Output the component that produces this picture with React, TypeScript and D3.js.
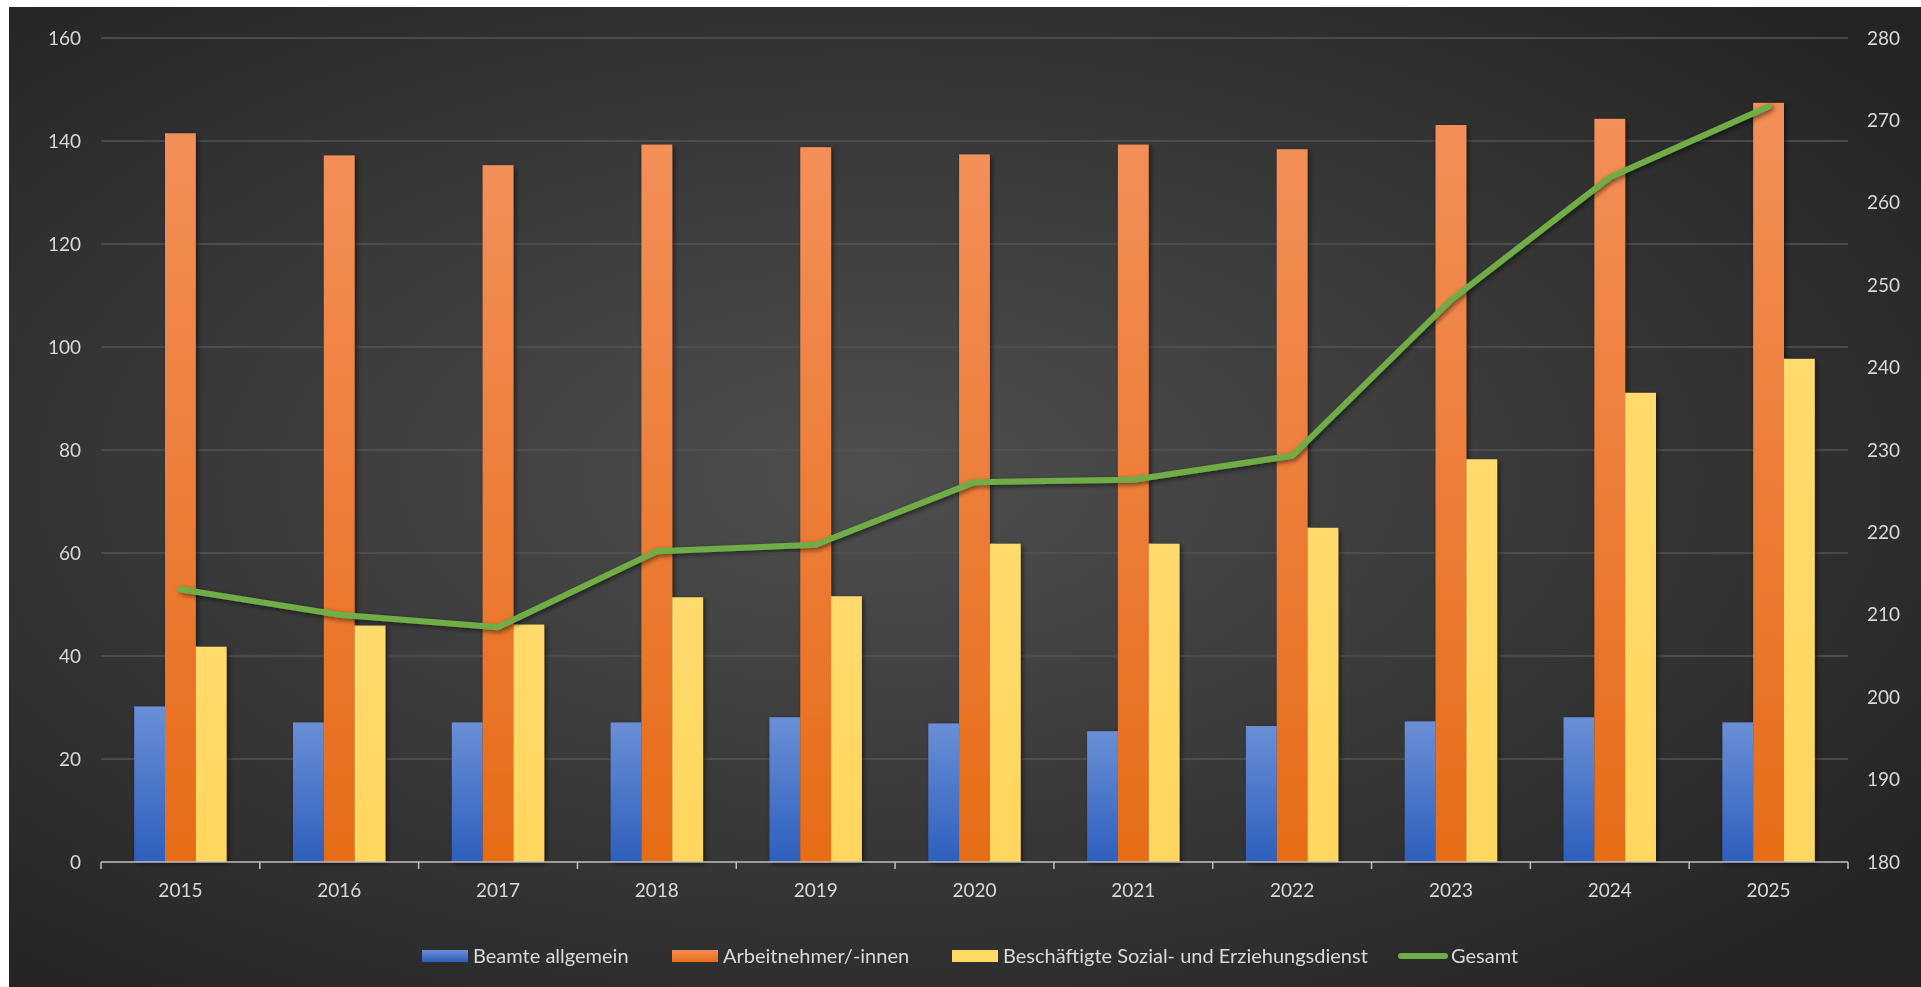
// Beschäftigte 2015-2025: grouped bars (left axis) + Gesamt line (right axis)
import * as d3 from "d3";
import { useEffect, useRef } from "react";

const years = ["2015", "2016", "2017", "2018", "2019", "2020", "2021", "2022", "2023", "2024", "2025"];
const beamte = [30.2, 27.1, 27.1, 27.1, 28.1, 26.9, 25.4, 26.4, 27.3, 28.1, 27.1];
const arbeitnehmer = [141.5, 137.2, 135.3, 139.3, 138.8, 137.4, 139.3, 138.4, 143.1, 144.3, 147.4];
const sozial = [41.8, 45.9, 46.1, 51.4, 51.6, 61.8, 61.8, 64.9, 78.2, 91.1, 97.7];
const gesamt = [213.1, 210.0, 208.5, 217.7, 218.5, 226.1, 226.4, 229.3, 248.2, 263.1, 271.7];

const leftTicks = [0, 20, 40, 60, 80, 100, 120, 140, 160];
const rightTicks = [180, 190, 200, 210, 220, 230, 240, 250, 260, 270, 280];

const seriesNames = ["Beamte allgemein", "Arbeitnehmer/-innen", "Beschäftigte Sozial- und Erziehungsdienst", "Gesamt"];

export default function App() {
  const svgRef = useRef<SVGSVGElement>(null);

  useEffect(() => {
    const W = 1912;
    const H = 980;
    const margin = { top: 31, right: W - 1839, bottom: H - 855, left: 92 };
    const width = W - margin.left - margin.right;
    const height = H - margin.top - margin.bottom;
    const font = "Lato, 'Open Sans', sans-serif";
    const textColor = "#D9D9D9";

    const root = d3.select(svgRef.current);
    root.selectAll("*").remove();

    const defs = root.append("defs");
    // background radial gradient
    const bg = defs.append("radialGradient").attr("id", "bg").attr("cx", "45%").attr("cy", "48%").attr("r", "68%");
    bg.append("stop").attr("offset", "0%").attr("stop-color", "#4f4f4f");
    bg.append("stop").attr("offset", "100%").attr("stop-color", "#242424");

    const grad = (id: string, top: string, bottom: string) => {
      const g = defs.append("linearGradient").attr("id", id).attr("x1", 0).attr("y1", 0).attr("x2", 0).attr("y2", 1);
      g.append("stop").attr("offset", "0%").attr("stop-color", top);
      g.append("stop").attr("offset", "100%").attr("stop-color", bottom);
    };
    grad("gBlue", "#6A8FD6", "#2D5FBD");
    grad("gOrange", "#F38F58", "#E66C17");
    grad("gYellow", "#FFDA6C", "#FFD65E");

    const shadow = defs.append("filter").attr("id", "shadow").attr("x", "-20%").attr("y", "-5%").attr("width", "150%").attr("height", "115%");
    shadow.append("feDropShadow").attr("dx", 2).attr("dy", 2).attr("stdDeviation", 2.5).attr("flood-color", "#000").attr("flood-opacity", 0.55);

    root.append("rect").attr("width", W).attr("height", H).attr("fill", "url(#bg)");

    const svg = root.append("g").attr("transform", `translate(${margin.left},${margin.top})`);

    const x = d3.scaleBand().domain(years).range([0, width]).padding(0);
    const yL = d3.scaleLinear().domain([0, 160]).range([height, 0]);
    const yR = d3.scaleLinear().domain([180, 280]).range([height, 0]);

    // gridlines
    svg
      .append("g")
      .selectAll("line")
      .data(leftTicks.filter((d) => d > 0))
      .enter()
      .append("line")
      .attr("x1", 0)
      .attr("x2", width)
      .attr("y1", (d) => yL(d))
      .attr("y2", (d) => yL(d))
      .attr("stroke", "#555555")
      .attr("stroke-width", 1.3);

    // left axis labels
    svg
      .append("g")
      .selectAll("text")
      .data(leftTicks)
      .enter()
      .append("text")
      .attr("x", -20)
      .attr("y", (d) => yL(d))
      .attr("dy", "0.35em")
      .attr("text-anchor", "end")
      .text((d) => d)
      .style("fill", textColor)
      .style("font-family", font)
      .style("font-size", "19px");

    // right axis labels
    svg
      .append("g")
      .selectAll("text")
      .data(rightTicks)
      .enter()
      .append("text")
      .attr("x", width + 19)
      .attr("y", (d) => yR(d))
      .attr("dy", "0.35em")
      .attr("text-anchor", "start")
      .text((d) => d)
      .style("fill", textColor)
      .style("font-family", font)
      .style("font-size", "19px");

    // bars
    const barW = 30.8;
    const series = [
      { values: beamte, fill: "url(#gBlue)" },
      { values: arbeitnehmer, fill: "url(#gOrange)" },
      { values: sozial, fill: "url(#gYellow)" },
    ];
    const bars = svg.append("g").attr("filter", "url(#shadow)");
    series.forEach((s, si) => {
      bars
        .append("g")
        .selectAll("rect")
        .data(s.values)
        .enter()
        .append("rect")
        .attr("x", (d, i) => (x(years[i]) as number) + x.bandwidth() / 2 + (si - 1.5) * barW)
        .attr("y", (d) => yL(d))
        .attr("width", barW)
        .attr("height", (d) => height - yL(d))
        .attr("fill", s.fill);
    });

    // x axis
    const ax = svg.append("g").attr("transform", `translate(0,${height})`);
    ax.append("line").attr("x1", 0).attr("x2", width).attr("stroke", "#BFBFBF").attr("stroke-width", 1.5);
    ax
      .selectAll("line.tick")
      .data(d3.range(years.length + 1))
      .enter()
      .append("line")
      .attr("class", "tick")
      .attr("x1", (i) => i * x.bandwidth())
      .attr("x2", (i) => i * x.bandwidth())
      .attr("y1", 0)
      .attr("y2", 7)
      .attr("stroke", "#BFBFBF")
      .attr("stroke-width", 1.5);
    ax
      .selectAll("text")
      .data(years)
      .enter()
      .append("text")
      .attr("x", (d) => (x(d) as number) + x.bandwidth() / 2)
      .attr("y", 28)
      .attr("dy", "0.35em")
      .attr("text-anchor", "middle")
      .text((d) => d)
      .style("fill", textColor)
      .style("font-family", font)
      .style("font-size", "19px");

    // Gesamt line
    const line = d3
      .line<number>()
      .x((d, i) => (x(years[i]) as number) + x.bandwidth() / 2)
      .y((d) => yR(d));
    svg
      .append("path")
      .datum(gesamt)
      .attr("d", line)
      .attr("fill", "none")
      .attr("stroke", "#70AD47")
      .attr("stroke-width", 6)
      .attr("stroke-linejoin", "round")
      .attr("stroke-linecap", "round")
      .attr("filter", "url(#shadow)");

    // legend
    const legY = 949;
    const legX = [413, 663, 943, 1389];
    const legFill = ["url(#gBlue)", "url(#gOrange)", "#FFD966"];
    const leg = root.append("g");
    seriesNames.forEach((name, i) => {
      if (i < 3) {
        leg.append("rect").attr("x", legX[i]).attr("y", legY - 6).attr("width", 46).attr("height", 12).attr("fill", legFill[i]);
      } else {
        leg
          .append("line")
          .attr("x1", legX[i] + 3)
          .attr("x2", legX[i] + 47)
          .attr("y1", legY)
          .attr("y2", legY)
          .attr("stroke", "#70AD47")
          .attr("stroke-width", 6)
          .attr("stroke-linecap", "round");
      }
      leg
        .append("text")
        .attr("x", legX[i] + (i < 3 ? 51 : 53))
        .attr("y", legY)
        .attr("dy", "0.35em")
        .text(name)
        .style("fill", textColor)
        .style("font-family", font)
        .style("font-size", "20px");
    });
  }, [svgRef]);

  return (
    <svg
      ref={svgRef}
      width={1912}
      height={980}
      style={{ position: "fixed", left: 9, top: 7, display: "block" }}
    />
  );
}
